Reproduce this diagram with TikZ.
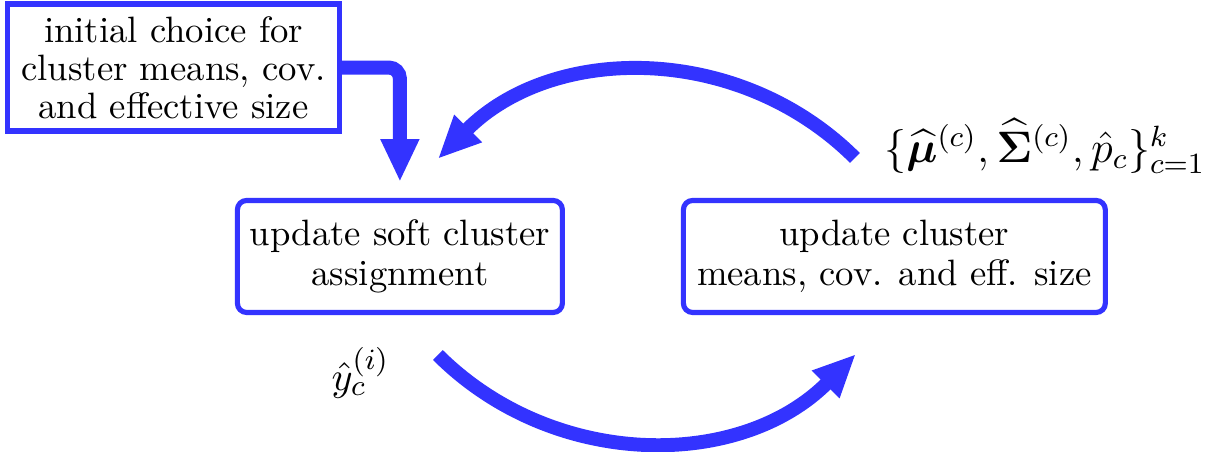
\documentclass[tikz,border=0pt]{standalone}
\usepackage{amsmath,bm}
\usetikzlibrary{arrows.meta}
\definecolor{loopblue}{RGB}{51,51,255}
\begin{document}
\begin{tikzpicture}[>={Triangle[width=9.8pt,length=11.7pt]},
  initbox/.style={draw=loopblue,line width=1.4pt,align=center,font=\fontsize{10}{10.4}\selectfont},
  stepbox/.style={draw=loopblue,line width=1.4pt,rounded corners=2.5pt,align=center,minimum height=1.073cm,font=\fontsize{10}{10.9}\selectfont},
  flow/.style={loopblue,line width=3.8pt},
  varlabel/.style={font=\fontsize{11.4}{13}\selectfont}]
  \useasboundingbox (0,0) rectangle (11.63,4.33);
  \node[initbox,minimum width=3.18cm,minimum height=1.207cm] (init) at (1.662,3.683) {initial choice for\\cluster means, cov.\\and effective size};
  \node[stepbox,minimum width=3.113cm] (assign) at (3.831,1.873) {update soft cluster\\assignment};
  \node[stepbox,minimum width=4.042cm] (mstep) at (8.568,1.873) {update cluster\\means, cov. and eff. size};
  \draw[flow,->,rounded corners=3pt] (init.east) -| ([yshift=0.153cm]assign.north);
  \draw[flow,->] ([xshift=-0.378cm,yshift=0.383cm]mstep.north) to[bend right=45] ([xshift=0.364cm,yshift=0.374cm]assign.north);
  \draw[flow,->] ([xshift=0.364cm,yshift=-0.383cm]assign.south) to[bend right=45] ([xshift=-0.369cm,yshift=-0.374cm]mstep.south);
  \node[varlabel,font=\fontsize{11.8}{13}\selectfont] (params) at (10.01,2.93) {$\{\widehat{\bm{\mu}}^{(c)},\widehat{\bm{\Sigma}}^{(c)},\hat{p}_c\}_{c=1}^{k}$};
  \node[varlabel] (resp) at (3.453,0.757) {$\hat{y}_c^{(i)}$};
\end{tikzpicture}
\end{document}
